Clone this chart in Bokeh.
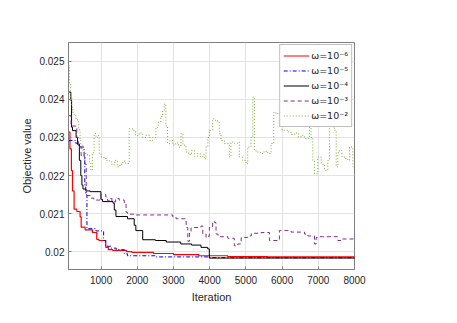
from bokeh.plotting import figure
from bokeh.models import Range1d, FixedTicker, PrintfTickFormatter
from bokeh.embed import file_html
from bokeh.resources import INLINE

# ---- data ----
labels = ["ω=10⁻⁶", "ω=10⁻⁵", "ω=10⁻⁴", "ω=10⁻³", "ω=10⁻²"]

red_it = [100, 140, 180, 211, 255, 330, 420, 450, 560, 760, 880, 940, 1130, 1200,
          1320, 1700, 1850, 2450, 3000, 3700, 4500, 5600, 8000]
red_v = [0.02314, 0.02270, 0.02213, 0.02160, 0.02112, 0.02106, 0.02092, 0.02065,
         0.02058, 0.02051, 0.02033, 0.02030, 0.02012, 0.02006, 0.02004, 0.02001,
         0.01999, 0.01996, 0.01993, 0.01990, 0.01988, 0.01987, 0.01987]

blue_it = [100, 300, 350, 440, 530, 550, 575, 610, 860, 1070, 1120, 1270, 1420,
           1640, 1730, 2500, 4000, 8000]
blue_v = [0.02292, 0.02285, 0.02279, 0.02275, 0.02250, 0.02170, 0.02150, 0.02061,
          0.02055, 0.02030, 0.02015, 0.02010, 0.02006, 0.01995, 0.01990, 0.01987,
          0.01985, 0.01985]

black_it = [100, 165, 185, 210, 310, 350, 400, 440, 470, 500, 580, 700, 995, 1040,
            1330, 1365, 1410, 1730, 1915, 1960, 2150, 2500, 2800, 3200, 3500, 3760,
            3945, 3990, 8000]
black_v = [0.02419, 0.02397, 0.02327, 0.02318, 0.02300, 0.02283, 0.02240, 0.02200,
           0.02175, 0.02165, 0.02160, 0.02158, 0.02138, 0.02132, 0.02128, 0.02110,
           0.02093, 0.02087, 0.02070, 0.02056, 0.02032, 0.02030, 0.02026, 0.02021,
           0.02018, 0.02012, 0.02008, 0.01984, 0.01983]

purple_it = [100, 170, 330, 370, 450, 550, 590, 700, 800, 1000, 1130, 1180, 1230,
             1300, 1400, 1500, 1640, 1690, 1730, 1960, 2980, 3070, 3350, 3395, 3440,
             3485, 3760, 3810, 3900, 3950, 3990, 4080, 4130, 4175, 4230, 4500, 4680,
             4775, 4870, 5050, 5150, 5420, 5650, 5925, 6250, 6620, 6710, 6895, 6940,
             7000, 7540, 7630, 8000]
purple_v = [0.02357, 0.02330, 0.02300, 0.02275, 0.02250, 0.02230, 0.02148, 0.02141,
            0.02136, 0.02150, 0.02144, 0.02134, 0.02140, 0.02131, 0.02140, 0.02136,
            0.02128, 0.02104, 0.02099, 0.02097, 0.02092, 0.02087, 0.02064, 0.02028,
            0.02052, 0.02064, 0.02068, 0.02047, 0.02038, 0.02041, 0.02064, 0.02080,
            0.02077, 0.02047, 0.02040, 0.02036, 0.02016, 0.02021, 0.02038, 0.02042,
            0.02049, 0.02051, 0.02030, 0.02056, 0.02052, 0.02047, 0.02042, 0.02021,
            0.02038, 0.02040, 0.02030, 0.02034, 0.02034]

green_it = [100, 130, 160, 190, 211, 255, 300, 349, 380, 420, 440, 487, 540, 625, 680,
            717, 760, 808, 860, 902, 947, 1000, 1080, 1150, 1230, 1300, 1380, 1450,
            1520, 1600, 1680, 1776, 1870, 1950, 2050, 2150, 2250, 2350, 2423, 2515,
            2580, 2650, 2700, 2744, 2790, 2838, 2900, 2980, 3060, 3140, 3206, 3260,
            3345, 3420, 3500, 3580, 3660, 3740, 3806, 3851, 3898, 3950, 3989, 4083,
            4150, 4221, 4266, 4313, 4404, 4542, 4589, 4680, 4775, 4819, 4900, 5004,
            5051, 5143, 5190, 5234, 5281, 5400, 5500, 5604, 5696, 5770, 5830, 5881,
            5925, 6000, 6158, 6250, 6350, 6450, 6525, 6617, 6711, 6755, 6800, 6849,
            6894, 6987, 7080, 7170, 7264, 7308, 7355, 7400, 7447, 7494, 7540, 7585,
            7650, 7720, 7817, 7862, 7955, 8000]
green_v = [0.02489, 0.02440, 0.02405, 0.02380, 0.02366, 0.02360, 0.02350, 0.02345,
           0.02320, 0.02292, 0.02280, 0.02266, 0.02258, 0.02253, 0.02235, 0.02214,
           0.02260, 0.02310, 0.02300, 0.02305, 0.02258, 0.02249, 0.02245, 0.02240,
           0.02236, 0.02228, 0.02240, 0.02223, 0.02230, 0.02238, 0.02232, 0.02323,
           0.02319, 0.02305, 0.02312, 0.02300, 0.02306, 0.02292, 0.02300, 0.02327,
           0.02340, 0.02355, 0.02370, 0.02388, 0.02330, 0.02284, 0.02292, 0.02280,
           0.02286, 0.02275, 0.02310, 0.02280, 0.02262, 0.02255, 0.02266, 0.02250,
           0.02258, 0.02249, 0.02255, 0.02244, 0.02275, 0.02300, 0.02319, 0.02349,
           0.02345, 0.02340, 0.02310, 0.02292, 0.02284, 0.02249, 0.02288, 0.02285,
           0.02288, 0.02249, 0.02240, 0.02231, 0.02275, 0.02301, 0.02406, 0.02266,
           0.02262, 0.02258, 0.02264, 0.02258, 0.02284, 0.02366, 0.02362, 0.02364,
           0.02336, 0.02319, 0.02315, 0.02308, 0.02312, 0.02301, 0.02305, 0.02297,
           0.02297, 0.02362, 0.02300, 0.02240, 0.02205, 0.02249, 0.02230, 0.02214,
           0.02240, 0.02345, 0.02336, 0.02325, 0.02319, 0.02223, 0.02260, 0.02266,
           0.02250, 0.02245, 0.02240, 0.02275, 0.02223, 0.02223]

x_ticks = [1000, 2000, 3000, 4000, 5000, 6000, 7000, 8000]
y_ticks = [0.020, 0.021, 0.022, 0.023, 0.024, 0.025]

FONT = "Liberation Sans"
TXT = "#262626"
AX = "#7f7f7f"

p = figure(width=449, height=315, output_backend="svg", toolbar_location=None,
           x_range=Range1d(100, 8000), y_range=Range1d(0.01954, 0.02549),
           min_border_left=68, min_border_right=95, min_border_top=42,
           min_border_bottom=46)
p.background_fill_color = "white"
p.border_fill_color = "white"
p.outline_line_color = AX
p.outline_line_width = 1

series = [
    (red_it, red_v, "#ff0000", "solid", 1.2),
    (blue_it, blue_v, "#0000ff", "4 2 1 2", 1),
    (black_it, black_v, "#000000", "solid", 1),
    (purple_it, purple_v, "#7e2f8e", "4 3", 1),
    (green_it, green_v, "#77ac30", "1 2", 1),
]
for (xs, ys, col, dash, w), lab in zip(series, labels):
    p.step(xs, ys, mode="after", line_color=col, line_dash=dash, line_width=w,
           legend_label=lab)

for ax in (p.xaxis[0], p.yaxis[0]):
    ax.axis_line_color = AX
    ax.major_tick_line_color = AX
    ax.major_tick_in = 3
    ax.major_tick_out = 0
    ax.minor_tick_line_color = None
    ax.major_label_text_font = FONT
    ax.major_label_text_font_size = "10px"
    ax.major_label_text_color = TXT
    ax.axis_label_text_font = FONT
    ax.axis_label_text_font_size = "11px"
    ax.axis_label_text_font_style = "normal"
    ax.axis_label_text_color = TXT

p.xaxis.ticker = FixedTicker(ticks=x_ticks)
p.yaxis.ticker = FixedTicker(ticks=y_ticks)
p.yaxis.formatter = PrintfTickFormatter(format="%g")
p.xaxis.axis_label = "Iteration"
p.yaxis.axis_label = "Objective value"
p.xaxis.major_label_standoff = 6
p.yaxis.major_label_standoff = 4
p.xaxis.axis_label_standoff = 4
p.yaxis.axis_label_standoff = 3

p.grid.grid_line_color = "#e3e3e3"
p.grid.grid_line_width = 1

lg = p.legend[0]
lg.location = "top_right"
lg.margin = 2
lg.padding = 3
lg.spacing = 0
lg.glyph_width = 26
lg.glyph_height = 15
lg.label_height = 15
lg.label_standoff = 2
lg.label_text_font = "DejaVu Sans"
lg.label_text_font_size = "9.5px"
lg.label_text_color = TXT
lg.border_line_color = AX
lg.border_line_width = 1
lg.background_fill_alpha = 1

open("out.html", "w").write(file_html(p, INLINE))
